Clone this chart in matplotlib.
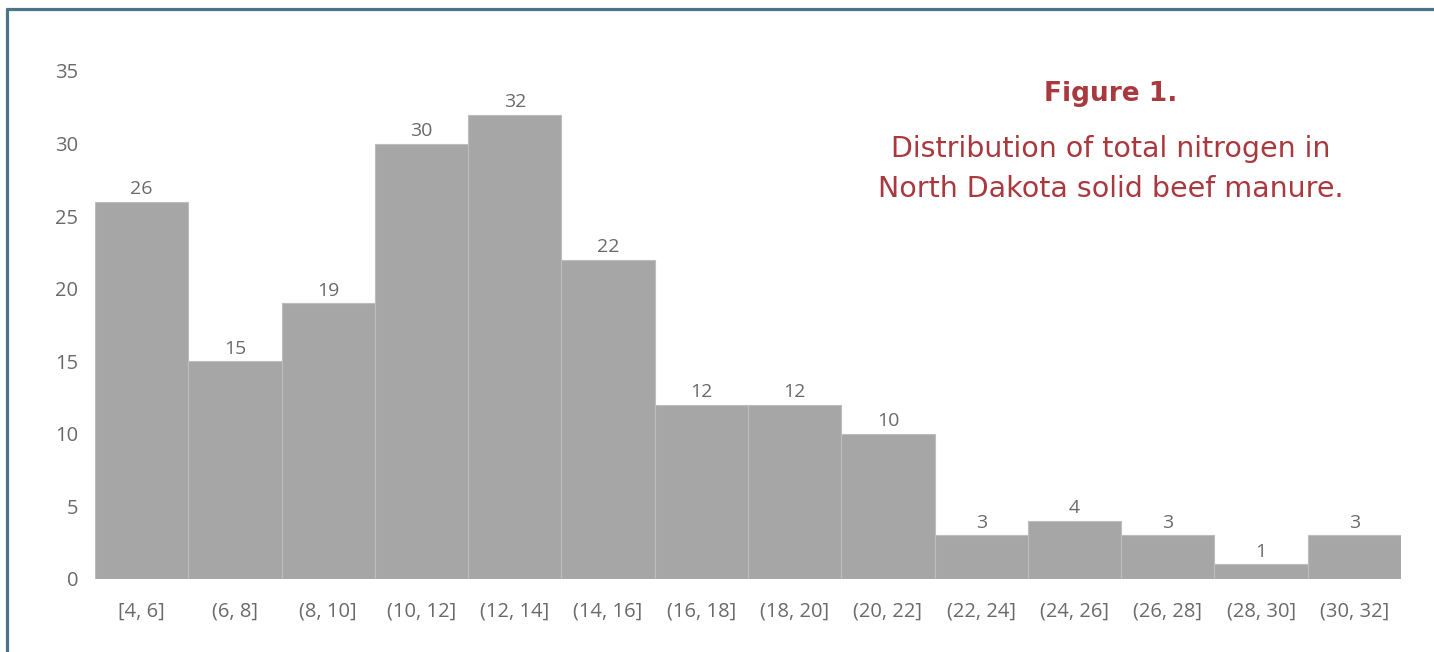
import matplotlib
matplotlib.use("Agg")
import matplotlib.pyplot as plt
from matplotlib.lines import Line2D

categories = ["[4, 6]", "(6, 8]", "(8, 10]", "(10, 12]", "(12, 14]", "(14, 16]", "(16, 18]",
              "(18, 20]", "(20, 22]", "(22, 24]", "(24, 26]", "(26, 28]", "(28, 30]", "(30, 32]"]
counts = [26, 15, 19, 30, 32, 22, 12, 12, 10, 3, 4, 3, 1, 3]
yticks = [0, 5, 10, 15, 20, 25, 30, 35]

W, H = 1434, 652
fig = plt.figure(figsize=(W / 100, H / 100), dpi=100)
fig.patch.set_facecolor("white")

ax = fig.add_axes([95 / W, (H - 579) / H, (1401 - 95) / W, (579 - 71) / H])
x = list(range(len(categories)))
ax.bar(x, counts, width=1.0, color="#a6a6a6", edgecolor="#bdbdbd", linewidth=0.8)
ax.set_xlim(-0.5, len(categories) - 0.5)
ax.set_ylim(0, 35)
ax.set_yticks(yticks)
ax.set_xticks(x)
ax.set_xticklabels(categories)
for s in ax.spines.values():
    s.set_visible(False)
tick_color = "#6a6a6a"
ax.tick_params(axis="both", length=0, labelsize=14.5, labelcolor=tick_color)
ax.tick_params(axis="y", pad=12)
ax.tick_params(axis="x", pad=16)
for lab in ax.get_xticklabels() + ax.get_yticklabels():
    lab.set_family("Open Sans")

for xi, c in zip(x, counts):
    ax.annotate(str(c), (xi, c), xytext=(0, 5.5), textcoords="offset points",
                ha="center", va="baseline", fontsize=14, color=tick_color, family="Open Sans")

red = "#a8393f"
fig.text(1111 / W, 1 - 101 / H, "Figure 1.", ha="center", va="baseline",
         fontsize=19, fontweight="bold", color=red, family="DejaVu Sans")
fig.text(1111 / W, 1 - 157 / H, "Distribution of total nitrogen in", ha="center", va="baseline",
         fontsize=20.5, color=red, family="DejaVu Sans")
fig.text(1111 / W, 1 - 197 / H, "North Dakota solid beef manure.", ha="center", va="baseline",
         fontsize=20.5, color=red, family="DejaVu Sans")

border = "#4b7489"
fig.add_artist(Line2D([7 / W, 7 / W], [0, 1 - 8 / H], transform=fig.transFigure,
                      color=border, linewidth=2.3, solid_capstyle="butt"))
fig.add_artist(Line2D([6 / W, 1], [1 - 9 / H, 1 - 9 / H], transform=fig.transFigure,
                      color=border, linewidth=2.3, solid_capstyle="butt"))

fig.savefig("out.png", dpi=100, facecolor="white")
